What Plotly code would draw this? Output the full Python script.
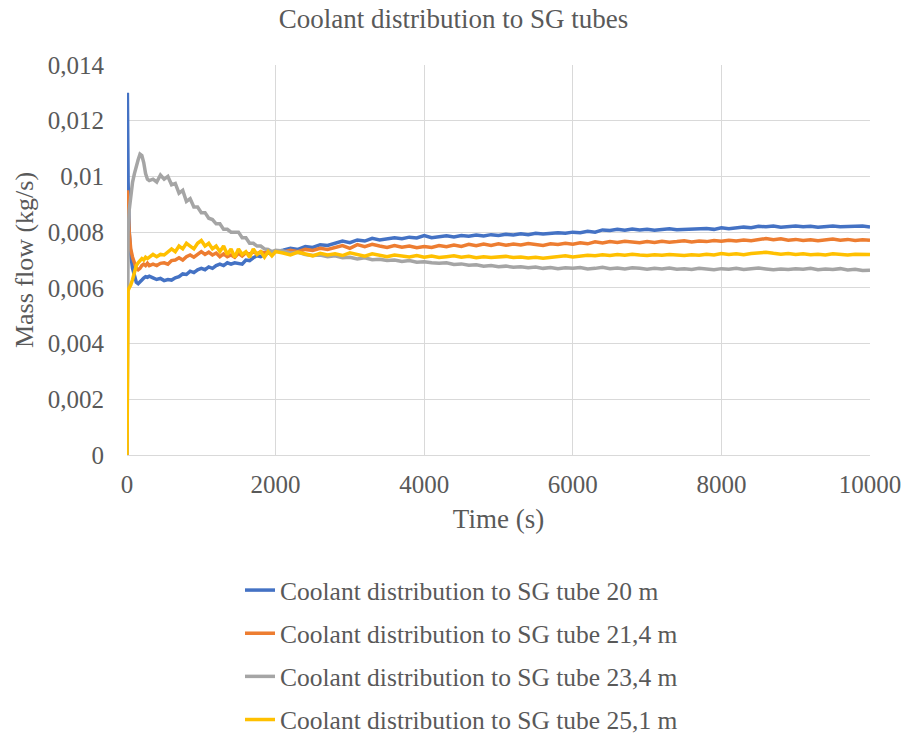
import plotly.graph_objects as go

# ---- data ----
t_early = [0, 5, 15, 30, 50, 75, 100, 125, 150, 175, 200, 225, 250, 275, 300,
           350, 400, 450, 500, 550, 600, 650, 700, 750, 800, 850, 900, 950, 1000,
           1050, 1100, 1150, 1200, 1250, 1300, 1350, 1400, 1450, 1500,
           1550, 1600, 1650, 1700, 1750, 1800, 1850, 1900, 1950, 2000]
t_late = list(range(2100, 10001, 100))
time_s = t_early + t_late

tube_20m = [
    0, .0130, .0098, .0080, .0072, .0067, .0064, .0062, .00615, .0062, .00628, .00635, .0064, .00638, .00642,
    .00636, .0063, .00634, .00626, .0063, .00628, .00636, .0064, .0065, .00648, .0066, .00655, .00665, .0067,
    .00665, .00675, .0067, .0068, .00685, .0068, .0069, .00685, .0069, .00688,
    .00685, .0070, .00698, .00708, .00715, .00712, .0072, .00725, .00722, .0073,
    .00735, .00742, .00738, .00748, .00745, .00755, .00752, .0076, .00768, .00762,
    .00772, .00768, .00778, .00772, .00776, .0078, .00776, .00782, .00779, .00788,
    .0078, .00784, .00787, .00783, .00788, .00785, .0079, .00786, .00791, .00788,
    .00792, .0079, .00794, .00791, .00796, .00793, .00797, .00798, .00796, .008,
    .00798, .00803, .008, .00808, .00806, .0081, .00807, .00811, .00808, .0081,
    .00807, .0081, .00812, .00809, .0081, .00808, .00811, .00813, .0081, .00816,
    .00812, .00815, .00818, .00816, .00821, .00819, .00822, .00818, .0082, .00822,
    .00819, .00821, .00818, .0082, .00822, .00819, .00821, .00823, .00822, .00818,
]
tube_21_4m = [
    0, .0095, .0088, .0080, .0074, .0071, .0069, .0067, .00665, .0067, .0068, .00685, .0068, .00688, .0068,
    .00685, .0068, .00688, .0069, .00685, .00698, .0070, .00708, .0070, .00712, .00718, .0071, .00722, .0073,
    .0072, .00728, .00718, .00725, .00712, .00722, .00712, .00718, .0071, .00724,
    .00714, .00726, .0072, .0073, .00722, .0073, .00725, .00733, .00728, .00732,
    .00728, .00735, .0073, .00738, .00734, .00742, .00738, .00745, .00752, .00742,
    .00755, .00748, .00756, .0075, .00745, .00752, .00746, .0075, .00744, .00748,
    .00745, .00752, .00748, .00754, .00749, .00756, .00751, .00757, .00752, .00758,
    .00753, .00757, .00754, .00759, .00755, .00752, .00758, .00756, .0076, .00757,
    .00762, .00758, .00765, .00761, .00766, .00763, .00767, .00764, .00762, .00766,
    .00763, .00767, .00764, .00766, .00769, .00765, .00768, .00766, .0077, .00767,
    .00771, .00768, .00772, .00769, .00774, .00777, .00773, .00776, .00771, .00774,
    .0077, .00773, .00769, .00772, .00775, .00771, .00774, .0077, .00773, .00771,
]
tube_23_4m = [
    0, .0070, .0080, .0088, .0094, .0098, .0101, .0104, .0106, .0108, .01075, .0105, .0101, .0099, .00985,
    .0099, .0098, .01005, .0099, .0100, .0097, .00975, .0094, .0095, .0091, .0092, .0089, .0089, .0087,
    .0087, .0085, .00845, .0083, .0083, .0081, .0081, .0080, .0080, .0080,
    .0078, .0078, .0076, .0076, .0075, .0075, .0074, .00738, .0073, .00735,
    .00732, .00725, .00728, .0072, .00716, .00718, .00712, .00715, .00708, .0071,
    .00704, .00708, .00701, .00703, .00698, .007, .00695, .00698, .00692, .00694,
    .0069, .00688, .0069, .00684, .00686, .00681, .00683, .00678, .0068, .00676,
    .00678, .00674, .00676, .00672, .00675, .0067, .00673, .00669, .00672, .0067,
    .00673, .00668, .0067, .00674, .00669, .00671, .00668, .00672, .0067, .00667,
    .0067, .00668, .00671, .00667, .00669, .00666, .0067, .00668, .00665, .00669,
    .00667, .0067, .00666, .00669, .00671, .00668, .00665, .00668, .00666, .00669,
    .00667, .0067, .00665, .00668, .00666, .00669, .00664, .00667, .00662, .00663,
]
tube_25_1m = [
    0, .0055, .0059, .0060, .0061, .0063, .0066, .0068, .0069, .0070, .00705, .0070, .0071, .00705, .0071,
    .0072, .00712, .0072, .00718, .0073, .0074, .0073, .0075, .0074, .0076, .0075, .0074, .0076, .0077,
    .0075, .0076, .0074, .0075, .0073, .0075, .0072, .0074, .0071, .0074,
    .0072, .0073, .0071, .0074, .0072, .0073, .0071, .0073, .00715, .0073,
    .00725, .00718, .00728, .0072, .00715, .00724, .00718, .00722, .00716, .00726,
    .0072, .00714, .00722, .00716, .00712, .00718, .00713, .00711, .00716, .0071,
    .00714, .00709, .00712, .00715, .0071, .00713, .00708, .00712, .00709, .00711,
    .00713, .00709, .00711, .00707, .0071, .00706, .00709, .00712, .00715, .00711,
    .00714, .00717, .00715, .00719, .00716, .0072, .00717, .00721, .00718, .00716,
    .00719, .00717, .0072, .00718, .00716, .00719, .00717, .00721, .00718, .00723,
    .0072, .00722, .00719, .00723, .00726, .00728, .00724, .00721, .00723, .0072,
    .00722, .00719, .00721, .00718, .00722, .0072, .00718, .00721, .00719, .0072,
]

series_names = ["Coolant distribution to SG tube 20 m",
                "Coolant distribution to SG tube 21,4 m",
                "Coolant distribution to SG tube 23,4 m",
                "Coolant distribution to SG tube 25,1 m"]
series_values = [tube_20m, tube_21_4m, tube_23_4m, tube_25_1m]
series_colors = ["#4472C4", "#ED7D31", "#A5A5A5", "#FFC000"]

x_ticks = [0, 2000, 4000, 6000, 8000, 10000]
x_tick_labels = ["0", "2000", "4000", "6000", "8000", "10000"]
y_ticks = [0, 0.002, 0.004, 0.006, 0.008, 0.010, 0.012, 0.014]
y_tick_labels = ["0", "0,002", "0,004", "0,006", "0,008", "0,01", "0,012", "0,014"]

FONT = "Liberation Serif, Times New Roman, serif"
GREY = "#595959"

fig = go.Figure()
for name, vals, col in zip(series_names, series_values, series_colors):
    fig.add_trace(go.Scatter(x=time_s, y=vals, mode="lines", name=name,
                             legendgroup=name,
                             line=dict(color=col, width=3.5)))

fig.update_layout(
    width=907, height=744,
    margin=dict(l=127, r=37, t=65, b=289, autoexpand=False),
    paper_bgcolor="white", plot_bgcolor="white",
    font=dict(family=FONT, color=GREY, size=25),
    title=dict(text="Coolant distribution to SG tubes", x=0.5, xanchor="center",
               y=1 - 19 / 744, yanchor="middle", font=dict(size=27, color=GREY)),
    showlegend=True,
    legend=dict(x=(240 - 127) / 743, xanchor="left",
                y=(455 - 567) / 390, yanchor="top", tracegroupgap=7,
                font=dict(size=25.5, color=GREY), bgcolor="rgba(0,0,0,0)"),
)
fig.update_xaxes(range=[0, 10000], tickvals=x_ticks, ticktext=x_tick_labels, tickangle=0,
                 showgrid=True, gridcolor="#D9D9D9",
                 gridwidth=1, zeroline=False, showline=True, linecolor="#D9D9D9",
                 ticks="", ticklabelstandoff=7, tickfont=dict(size=25),
                 title=dict(text="Time (s)", standoff=12, font=dict(size=27, color=GREY)))
fig.update_yaxes(range=[0, 0.014], tickvals=y_ticks, ticktext=y_tick_labels, showgrid=True,
                 gridcolor="#D9D9D9", gridwidth=1, zeroline=False, showline=False,
                 ticks="", ticklabelstandoff=22, tickfont=dict(size=25),
                 title=dict(text="Mass flow (kg/s)", standoff=6, font=dict(size=26, color=GREY)))

fig.write_html("out.html")
